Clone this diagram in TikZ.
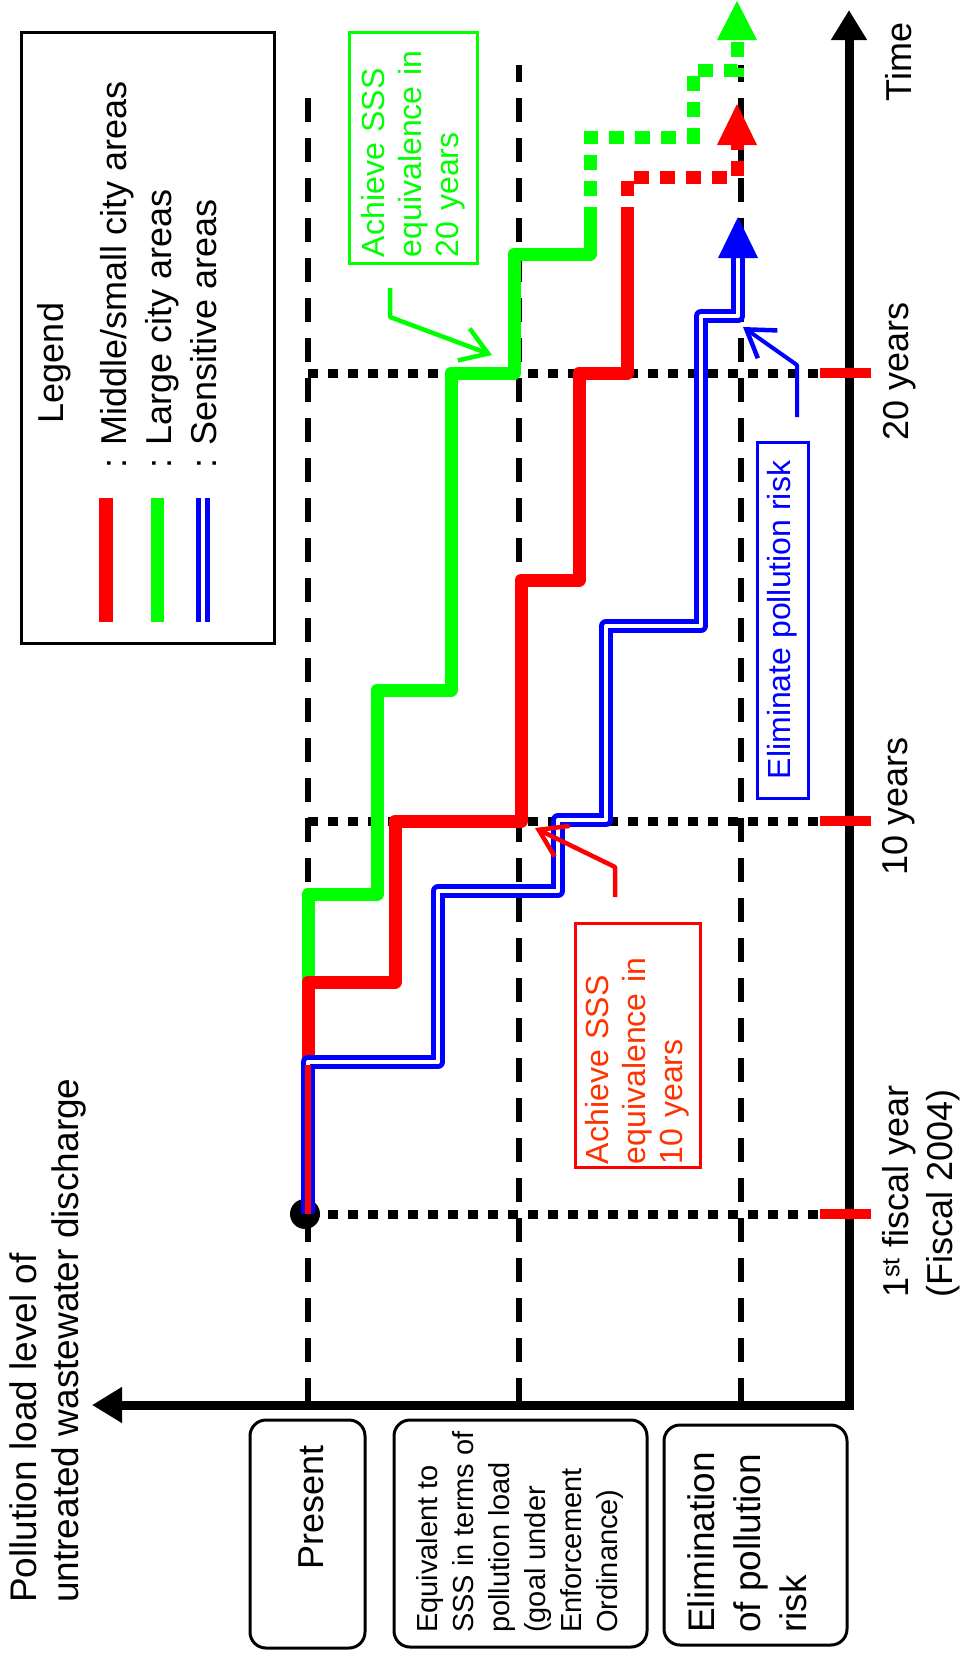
\documentclass[tikz,border=0pt]{standalone}
\usepackage{fontspec}
\setmainfont{Liberation Sans}
\usetikzlibrary{arrows.meta}
\definecolor{myred}{RGB}{255,0,0}
\definecolor{mygreen}{RGB}{0,255,0}
\definecolor{myblue}{RGB}{0,0,255}
\definecolor{labelred}{RGB}{255,51,0}
\begin{document}
\begin{tikzpicture}[x=1pt,y=-1pt,
  rot/.style={rotate=90, inner sep=0pt},
  f36/.style={font=\fontsize{36}{44}\selectfont},
  levelline/.style={line width=6pt, dash pattern=on 24pt off 16pt},
  yearline/.style={line width=9pt, dash pattern=on 10pt off 10pt},
  yeartick/.style={myred, line width=10pt},
  axisline/.style={line width=9pt, -{Triangle[length=30pt,width=34pt]}},
  stepline/.style={line width=13pt, line join=round},
  futureline/.style={line width=13pt, dash pattern=on 15pt off 11pt},
  blueline/.style={draw=myblue, line width=5pt, double=white, double distance=4pt, line join=round},
  callout/.style={line width=4.5pt, line join=round, -{Straight Barb[length=26pt,width=34pt,line width=4.5pt]}},
  labelbox/.style={rotate=90, draw, line width=3pt, inner ysep=0pt, font=\fontsize{32}{37}\selectfont},
  levelbox/.style={rotate=90, draw, line width=3pt, rounded corners=16pt, inner sep=0pt},
]
\useasboundingbox (0,0) rectangle (964,1660);
\fill[white] (0,0) rectangle (964,1660);

% coordinates
\coordinate (start) at (308,1214);
\coordinate (origin) at (850,1405);

% level lines (dashed)
\draw[levelline] (308,1402) -- (308,85);
\draw[levelline] (519,1402) -- (519,65);
\draw[levelline] (741,1402) -- (741,65);

% year lines (dotted)
\draw[yearline] (308,1214) -- (818,1214);
\draw[yearline] (308,821) -- (818,821);
\draw[yearline] (308,373) -- (818,373);

% axes
\draw[axisline] (849,1409.5) -- (849,10) coordinate (timetip);
\draw[axisline] (853.5,1405) -- (92,1405) coordinate (loadtip);

% ticks
\draw[yeartick] (820,1214) -- (871,1214);
\draw[yeartick] (820,821) -- (871,821);
\draw[yeartick] (820,373) -- (871,373);

% start dot
\fill (305,1214) circle[radius=15pt];

% green: large city areas
\draw[mygreen, stepline] (start) -- (308,894) -- (377,894) -- (377,690) -- (451,690)
  -- (451,373) -- (514,373) -- (514,254) -- (590,254) -- (590,222) coordinate (gend);
\draw[mygreen, futureline] (gend) -- (590,137) -- (693,137) -- (693,70) -- (737,70) -- (737,40);
\fill[mygreen] (717,40) -- (737,1) -- (757,40) -- cycle;

% red: middle/small city areas
\draw[myred, stepline] (start) -- (308,982) -- (395,982) -- (395,821) -- (521,821)
  -- (521,580) -- (579,580) -- (579,373) -- (627,373) -- (627,222) coordinate (rend);
\draw[myred, futureline] (rend) -- (627,177) -- (737,177) -- (737,145);
\fill[myred] (717,145) -- (737,104) -- (757,145) -- cycle;

% blue: sensitive areas
\draw[blueline] (start) -- (308,1062) -- (438,1062) -- (438,891) -- (558,891) -- (558,820)
  -- (606,820) -- (606,626) -- (701,626) -- (701,316) -- (738,316) -- (738,256);
\fill[myblue] (718,258) -- (738,217) -- (758,258) -- cycle;
\draw[myred, line width=6pt] (start) -- (308,1065);

% callouts
\coordinate (gc1) at (390,288);
\coordinate (gc2) at (390,317);
\coordinate (gct) at (492,355);
\draw[mygreen, callout] (gc1) -- (gc2) -- (gct);
\coordinate (rc1) at (615,897);
\coordinate (rc2) at (615,867);
\coordinate (rct) at (535,828);
\draw[myred, callout] (rc1) -- (rc2) -- (rct);
\coordinate (bc1) at (797,417);
\coordinate (bc2) at (797,365);
\coordinate (bct) at (743,327);
\draw[myblue, callout, line width=4pt] (bc1) -- (bc2) -- (bct);

% label boxes
\node[labelbox, draw=mygreen, text=mygreen, minimum height=128pt, inner xsep=6pt,
  text width=219pt, align=left] (glabel) at (413.5,147.5)
  {Achieve SSS\\equivalence in\\20 years};
\node[labelbox, draw=myred, text=labelred, minimum height=125pt, inner xsep=3pt,
  text width=238pt, align=left] (rlabel) at (637.5,1045)
  {Achieve SSS\\equivalence in\\10 years};
\node[labelbox, draw=myblue, text=myblue, minimum height=51pt, minimum width=356pt,
  inner xsep=0pt] (blabel) at (782.5,620) {Eliminate pollution risk};

% legend
\draw[line width=3pt] (21,32) rectangle (274,643);
\node[rot, f36] (legend) at (54,363) {Legend};
\node[rot, anchor=north west, align=left, font=\fontsize{36}{45}\selectfont] (legtext) at (100,469)
  {: Middle/small city areas\\: Large city areas\\: Sensitive areas};
\draw[myred, line width=14pt] (106,622) -- (106,498);
\draw[mygreen, line width=13pt] (157,622) -- (157,498);
\draw[blueline] (203,622) -- (203,498);

% axis labels
\node[rot, anchor=north west, align=left, font=\fontsize{37}{42}\selectfont] (ylabel) at (9,1603)
  {Pollution load level of\\untreated wastewater discharge};
\node[rot, f36] (timelabel) at (899,62) {Time};
\node[rot, f36] (y20) at (900,371) {20 years};
\node[rot, f36] (y10) at (899,806) {10 years};
\node[rot, f36, anchor=north west, align=left] (y1) at (882,1298)
  {1\textsuperscript{st} fiscal year\\(Fiscal 2004)};

% level boxes
\node[levelbox, minimum width=228pt, minimum height=115pt] (presentbox) at (307.5,1534) {};
\node[rot, f36] (present) at (311,1507) {Present};
\node[levelbox, minimum width=227pt, minimum height=253pt] (sssbox) at (520.5,1533.5) {};
\node[rot, anchor=north west, align=left, font=\fontsize{29}{36}\selectfont] (ssstext) at (416,1633)
  {Equivalent to\\SSS in terms of\\pollution load\\(goal under\\Enforcement\\Ordinance)};
\node[levelbox, minimum width=220pt, minimum height=183pt] (elimbox) at (755.5,1535) {};
\node[rot, anchor=north west, align=left, font=\fontsize{37}{46}\selectfont] (elimtext) at (687,1633)
  {Elimination\\of pollution\\risk};
\end{tikzpicture}
\end{document}
